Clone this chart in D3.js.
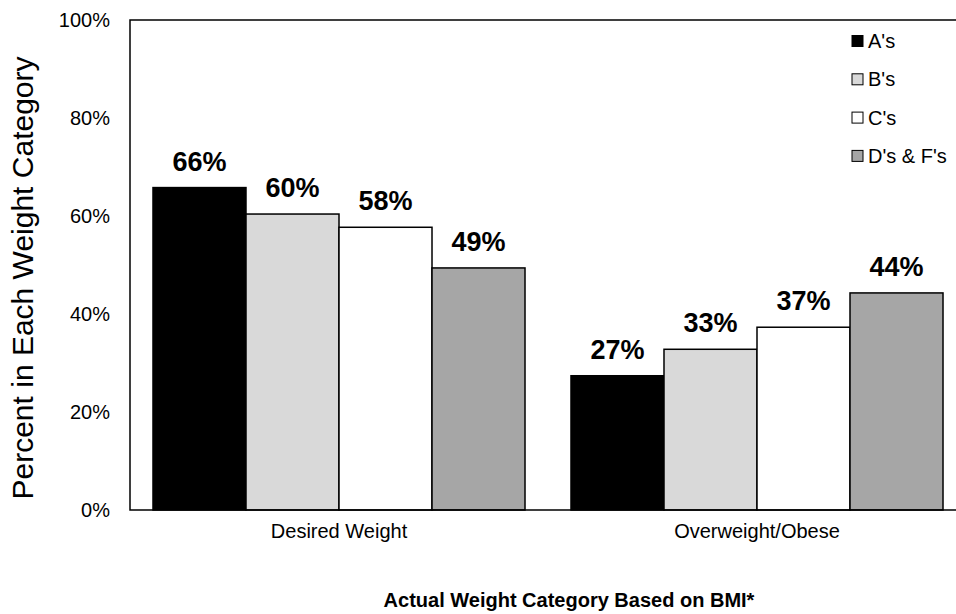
<!DOCTYPE html>
<html>
<head>
<meta charset="utf-8">
<script src="https://cdn.jsdelivr.net/npm/d3@7"></script>
<style>
  body { margin: 0; background: #fff; }
  svg { display: block; font-family: "Liberation Sans", Arial, sans-serif; }
</style>
</head>
<body>
<script>
  // chart data
  const categories = ["Desired Weight", "Overweight/Obese"];
  const series = ["A's", "B's", "C's", "D's & F's"];
  const values = [
    [65.8, 60.4, 57.7, 49.4],
    [27.4, 32.8, 37.3, 44.3]
  ];
  const yTicks = [0, 20, 40, 60, 80, 100];
  const colors = ["#000000", "#d9d9d9", "#ffffff", "#a6a6a6"];

  (function() {
    const width = 956, height = 614;
    const plotLeft = 130, plotRight = 966, plotTop = 20, plotBottom = 510;

    const svg = d3.select('body').append('svg')
      .attr('width', width)
      .attr('height', height);

    // scales
    const x0 = d3.scaleBand()
      .domain(categories)
      .range([plotLeft, plotRight])
      .paddingInner(0.11)
      .paddingOuter(0.055);

    const x1 = d3.scaleBand()
      .domain(series)
      .range([0, x0.bandwidth()]);

    const y = d3.scaleLinear()
      .domain([0, 100])
      .range([plotBottom, plotTop]);

    // y axis labels
    const yAxis = d3.axisLeft(y)
      .tickValues(yTicks)
      .tickSize(0)
      .tickPadding(20)
      .tickFormat(d => d + "%");

    const gy = svg.append('g')
      .attr('transform', `translate(${plotLeft}, 0)`)
      .call(yAxis);
    gy.select('.domain').remove();
    gy.selectAll('text')
      .style('font-size', '20px')
      .style('font-family', '"Liberation Sans", Arial, sans-serif')
      .attr('fill', '#000');

    // category labels
    const xAxis = d3.axisBottom(x0).tickSize(0).tickPadding(14);
    const gx = svg.append('g')
      .attr('transform', `translate(0, ${plotBottom})`)
      .call(xAxis);
    gx.select('.domain').remove();
    gx.selectAll('text')
      .style('font-size', '20px')
      .style('font-family', '"Liberation Sans", Arial, sans-serif')
      .attr('fill', '#000');

    // bars
    const groups = svg.selectAll('.group')
      .data(categories)
      .enter()
      .append('g')
        .attr('class', 'group')
        .attr('transform', d => `translate(${x0(d)}, 0)`);

    groups.selectAll('rect')
      .data((d, i) => values[i].map((v, j) => ({ s: series[j], v: v, c: colors[j] })))
      .enter()
      .append('rect')
        .attr('x', d => x1(d.s))
        .attr('y', d => y(d.v))
        .attr('width', x1.bandwidth())
        .attr('height', d => plotBottom - y(d.v))
        .attr('fill', d => d.c)
        .attr('stroke', '#000')
        .attr('stroke-width', 1.5);

    groups.selectAll('.label')
      .data((d, i) => values[i].map((v, j) => ({ s: series[j], v: v })))
      .enter()
      .append('text')
        .attr('class', 'label')
        .attr('x', d => x1(d.s) + x1.bandwidth() / 2)
        .attr('y', d => y(d.v) - 17)
        .attr('text-anchor', 'middle')
        .style('font-size', '27px')
        .style('font-weight', 'bold')
        .text(d => d3.format(".0f")(d.v) + "%");

    // frame lines (left, top, bottom)
    svg.append('path')
      .attr('d', `M${plotRight},${plotTop}H${plotLeft}V${plotBottom}H${plotRight}`)
      .attr('fill', 'none')
      .attr('stroke', '#000')
      .attr('stroke-width', 1.5);

    // axis titles
    svg.append('text')
      .attr('transform', 'translate(33, 278) rotate(-90)')
      .attr('text-anchor', 'middle')
      .style('font-size', '30px')
      .text('Percent in Each Weight Category');

    svg.append('text')
      .attr('x', 569)
      .attr('y', 607)
      .attr('text-anchor', 'middle')
      .style('font-size', '20px')
      .style('font-weight', 'bold')
      .text('Actual Weight Category Based on BMI*');

    // legend
    const legend = svg.selectAll('.legend')
      .data(series)
      .enter()
      .append('g')
        .attr('class', 'legend')
        .attr('transform', (d, i) => `translate(852, ${41 + i * 38.3})`);

    legend.append('rect')
      .attr('x', 0)
      .attr('y', -5.5)
      .attr('width', 11)
      .attr('height', 11)
      .attr('fill', (d, i) => colors[i])
      .attr('stroke', '#000')
      .attr('stroke-width', 1);

    legend.append('text')
      .attr('x', 16)
      .attr('y', 0)
      .attr('dy', '0.35em')
      .style('font-size', '20px')
      .text(d => d);
  })();
</script>
</body>
</html>
